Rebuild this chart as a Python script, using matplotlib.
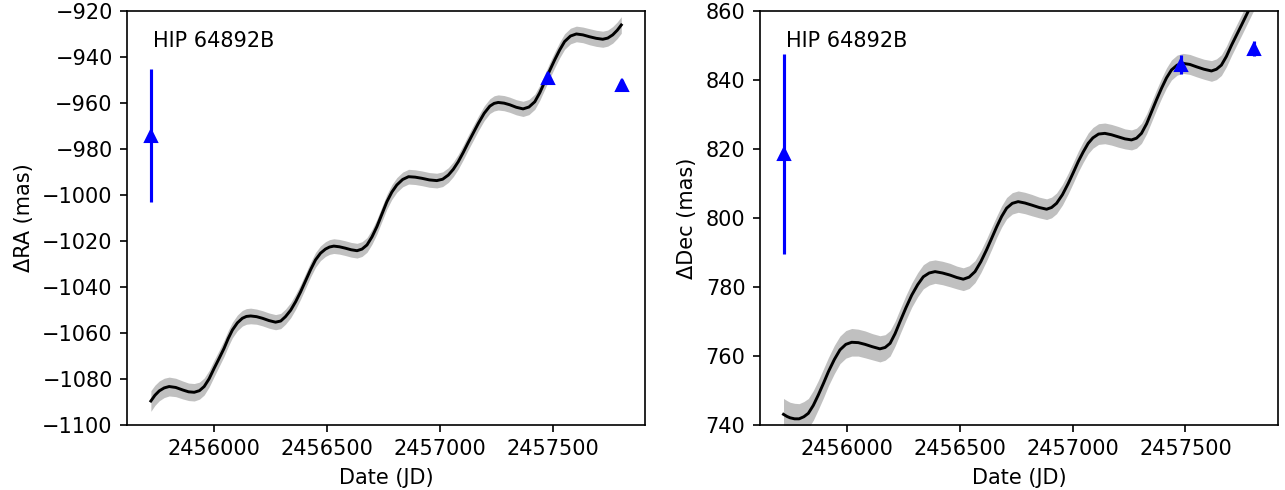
import numpy as np
import matplotlib
matplotlib.use('Agg')
import matplotlib.pyplot as plt

# measured epochs (JD) and relative astrometry of the companion
obs_jd = [2455720, 2457480, 2457804]
obs_ra = [-974.2, -949.2, -952.2]
obs_ra_err = [28.8, 2.0, 2.0]
obs_dec = [818.6, 844.4, 849.0]
obs_dec_err = [29.0, 2.8, 2.2]

# model track, RA panel (JD, mas, half width of grey band)
ra_jd = [2455720, 2455738, 2455757, 2455779, 2455801, 2455830, 2455861, 2455887, 2455912, 2455935,
         2455956, 2455978, 2456000, 2456022, 2456044, 2456062, 2456081, 2456103, 2456125, 2456143,
         2456162, 2456188, 2456214, 2456243, 2456272, 2456295, 2456316, 2456339, 2456361, 2456383,
         2456405, 2456427, 2456449, 2456471, 2456493, 2456511, 2456530, 2456555, 2456581, 2456607,
         2456633, 2456655, 2456677, 2456699, 2456721, 2456743, 2456765, 2456787, 2456809, 2456835,
         2456861, 2456890, 2456920, 2456953, 2456986, 2457012, 2457037, 2457059, 2457081, 2457103,
         2457125, 2457148, 2457170, 2457196, 2457221, 2457240, 2457258, 2457284, 2457309, 2457338,
         2457368, 2457394, 2457420, 2457442, 2457464, 2457486, 2457508, 2457530, 2457552, 2457578,
         2457604, 2457633, 2457662, 2457692, 2457721, 2457743, 2457765, 2457785, 2457803]
ra_model = [-1089.7, -1087.2, -1085.3, -1084.0, -1083.4, -1083.8, -1084.9, -1085.7, -1085.9, -1085.2,
            -1083.4, -1080.0, -1075.5, -1071.2, -1066.8, -1062.6, -1058.8, -1055.7, -1053.7, -1052.9,
            -1052.7, -1053.0, -1053.7, -1054.7, -1055.4, -1054.9, -1053.0, -1050.2, -1046.5, -1042.2,
            -1037.4, -1032.6, -1028.3, -1025.4, -1023.6, -1022.7, -1022.3, -1022.6, -1023.2, -1023.9,
            -1024.3, -1023.6, -1021.8, -1018.3, -1013.8, -1008.4, -1003.0, -998.8, -995.7, -993.3,
            -992.1, -992.3, -992.8, -993.5, -993.8, -993.2, -991.4, -988.9, -985.6, -981.6,
            -977.3, -973.0, -968.9, -964.5, -961.4, -960.2, -959.8, -960.1, -960.8, -961.9,
            -962.6, -961.8, -959.5, -955.6, -950.8, -945.9, -941.3, -937.0, -933.3, -930.9,
            -930.0, -930.4, -931.2, -931.9, -932.3, -931.8, -930.4, -928.4, -926.1]
ra_band = [4.5, 4.4, 4.3, 4.2, 4.1, 4.0, 3.9, 3.8, 3.8, 3.7,
           3.7, 3.6, 3.6, 3.5, 3.5, 3.5, 3.4, 3.4, 3.4, 3.4,
           3.4, 3.3, 3.3, 3.3, 3.3, 3.3, 3.3, 3.3, 3.3, 3.2,
           3.2, 3.2, 3.2, 3.2, 3.2, 3.2, 3.2, 3.2, 3.2, 3.2,
           3.2, 3.2, 3.2, 3.2, 3.2, 3.2, 3.2, 3.2, 3.2, 3.2,
           3.2, 3.2, 3.2, 3.2, 3.2, 3.2, 3.2, 3.2, 3.2, 3.2,
           3.2, 3.2, 3.2, 3.2, 3.2, 3.3, 3.3, 3.3, 3.3, 3.3,
           3.3, 3.3, 3.3, 3.3, 3.3, 3.4, 3.4, 3.4, 3.4, 3.4,
           3.4, 3.4, 3.5, 3.5, 3.5, 3.5, 3.6, 3.6, 3.6]

# model track, Dec panel
dec_jd = [2455720, 2455735, 2455749, 2455769, 2455789, 2455810, 2455830, 2455852, 2455874, 2455897,
          2455919, 2455945, 2455970, 2455996, 2456022, 2456051, 2456081, 2456114, 2456147, 2456170,
          2456192, 2456214, 2456236, 2456262, 2456288, 2456314, 2456339, 2456365, 2456391, 2456424,
          2456457, 2456487, 2456516, 2456542, 2456568, 2456594, 2456619, 2456642, 2456664, 2456686,
          2456708, 2456733, 2456759, 2456789, 2456819, 2456852, 2456885, 2456907, 2456929, 2456955,
          2456981, 2457003, 2457025, 2457047, 2457069, 2457090, 2457115, 2457143, 2457172, 2457202,
          2457232, 2457261, 2457283, 2457305, 2457328, 2457350, 2457372, 2457394, 2457416, 2457438,
          2457463, 2457489, 2457519, 2457549, 2457582, 2457615, 2457637, 2457659, 2457681, 2457704,
          2457726, 2457748, 2457777, 2457803]
dec_model = [743.0, 742.4, 742.0, 741.7, 741.7, 742.3, 743.3, 745.6, 748.6, 752.0,
             755.4, 758.9, 761.7, 763.3, 763.9, 763.8, 763.3, 762.6, 762.0, 762.4,
             763.6, 766.4, 769.9, 773.9, 777.6, 780.6, 782.9, 784.0, 784.4, 784.0,
             783.4, 782.7, 782.2, 782.8, 784.4, 787.3, 790.7, 794.1, 797.4, 800.4,
             802.8, 804.2, 804.7, 804.3, 803.7, 803.0, 802.5, 803.0, 804.2, 806.7,
             810.0, 813.1, 816.3, 819.1, 821.6, 823.2, 824.3, 824.5, 824.1, 823.5,
             822.9, 822.6, 823.1, 824.5, 827.3, 830.8, 834.3, 837.6, 840.6, 842.9,
             844.3, 844.8, 844.5, 843.8, 843.1, 842.6, 843.1, 844.3, 846.8, 850.1,
             853.0, 855.9, 859.8, 863.3]
dec_band = [4.6, 4.6, 4.5, 4.5, 4.4, 4.4, 4.3, 4.3, 4.2, 4.2,
            4.1, 4.1, 4.0, 4.0, 4.0, 3.9, 3.9, 3.8, 3.8, 3.7,
            3.7, 3.6, 3.6, 3.6, 3.5, 3.5, 3.5, 3.5, 3.4, 3.4,
            3.4, 3.3, 3.3, 3.3, 3.2, 3.2, 3.2, 3.2, 3.1, 3.1,
            3.1, 3.1, 3.1, 3.1, 3.1, 3.0, 3.0, 3.0, 3.0, 3.0,
            3.0, 3.0, 3.0, 3.0, 3.0, 3.0, 3.0, 3.0, 3.0, 3.0,
            2.9, 2.9, 2.9, 2.9, 2.9, 2.9, 2.9, 2.9, 2.9, 2.9,
            2.9, 2.9, 2.9, 2.9, 2.9, 3.0, 3.0, 3.0, 3.0, 3.0,
            3.0, 3.0, 3.0, 3.0]

fig, axes = plt.subplots(1, 2, figsize=(1285 / 150, 490 / 150), dpi=150)
fig.subplots_adjust(left=0.0991, right=0.9943, bottom=0.1333, top=0.9776, wspace=0.222)

panels = [
    (axes[0], ra_jd, ra_model, ra_band, obs_ra, obs_ra_err, '\u0394RA (mas)', (-1100, -920)),
    (axes[1], dec_jd, dec_model, dec_band, obs_dec, obs_dec_err, '\u0394Dec (mas)', (740, 860)),
]

for ax, jd, model, band, obs, err, ylab, ylim in panels:
    jd = np.array(jd)
    model = np.array(model)
    band = np.array(band)
    ax.fill_between(jd, model - band, model + band, color='#c0c0c0', lw=0)
    ax.plot(jd, model, color='black', lw=1.4, solid_joinstyle='round')
    ax.errorbar(obs_jd, obs, yerr=err, fmt='^', color='blue', ms=6, zorder=5)
    ax.set_ylim(*ylim)
    ax.set_xlabel('Date (JD)')
    ax.set_ylabel(ylab)
    ax.text(0.05, 0.913, 'HIP 64892B', transform=ax.transAxes)
    ax.ticklabel_format(axis='x', useOffset=False, style='plain')

fig.savefig('out.png', dpi=150)
